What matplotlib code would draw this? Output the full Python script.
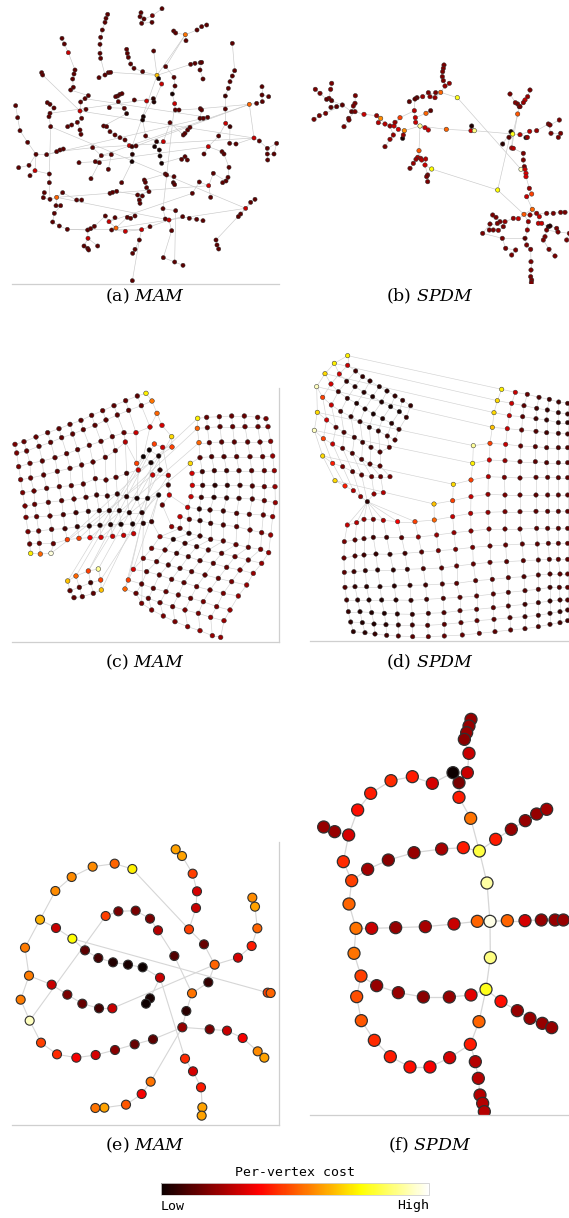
import matplotlib
matplotlib.use("Agg")
import matplotlib.pyplot as plt
from matplotlib.collections import LineCollection
from matplotlib.colorbar import ColorbarBase
from matplotlib.colors import PowerNorm

plt.rcParams["mathtext.fontset"] = "dejavuserif"

W, H = 569, 1218
COST_NORM = PowerNorm(gamma=1.3, vmin=0, vmax=1)

# ---------------------------------------------------------------------------
# Layout coordinates (x, y, cost) of the vertices, grouped in chains / grid rows
# ---------------------------------------------------------------------------

# (a) MAM, tree-like graph
A_CHAINS = [
    [(323, 43, .2), (318, 55, .2), (315, 67, .2), (307, 90, .2), (302, 112, .2), (300, 133, .2), (300, 160, .2), (302, 175, .2)],
    [(486, 26, .2), (457, 47, .25), (432, 57, .2), (423, 38, .2)],
    [(420, 50, .2), (425, 70, .2), (456, 67, .2)],
    [(620, 75, .2), (605, 80, .2), (591, 90, .2), (556, 104, .62), (558, 122, .2)],
    [(521, 93, .2), (527, 99, .2)],
    [(186, 115, .2), (193, 132, .2), (205, 158, .38)],
    [(380, 148, .2), (382, 160, .2), (385, 172, .2), (392, 192, .2), (402, 205, .2), (428, 215, .2)],
    [(461, 153, .2), (471, 226, .72), (476, 236, .05), (485, 252, .38), (462, 306, .08), (460, 296, .1), (440, 303, .38), (403, 300, .2)],
    [(497, 200, .2), (522, 232, .2), (525, 258, .2), (517, 282, .05), (524, 311, .38), (526, 330, .2), (537, 330, .2)],
    [(572, 193, .2), (585, 190, .2), (601, 188, .2), (605, 187, .2)],
    [(600, 210, .2), (609, 237, .2)],
    [(697, 130, .2), (704, 212, .2), (697, 228, .2), (690, 245, .2), (685, 265, .2), (676, 288, .15), (676, 327, .2),
     (677, 370, .38), (690, 380, .15), (689, 430, .2), (708, 432, .2)],
    [(748, 313, .6), (770, 310, .2), (787, 305, .2), (786, 285, .2), (786, 260, .2)],
    [(806, 290, .2)],
    [(125, 218, .2), (128, 225, .2)],
    [(225, 210, .2), (222, 222, .2), (218, 237, .2), (220, 262, .2), (212, 270, .2)],
    [(265, 287, .2), (255, 296, .2), (242, 306, .2), (240, 333, .38), (258, 328, .2)],
    [(245, 355, .2), (232, 367, .2), (215, 375, .2), (203, 380, .2)],
    [(240, 390, .2), (243, 403, .2)],
    [(297, 233, .2), (315, 225, .2), (325, 218, .2), (332, 217, .2)],
    [(353, 288, .2), (360, 283, .2), (366, 281, .2)],
    [(347, 290, .2), (355, 305, .2), (373, 325, .2), (380, 341, .1)],
    [(142, 308, .2), (150, 313, .2), (162, 324, .2), (150, 340, .2), (147, 350, .2), (152, 380, .2)],
    [(148, 522, .2), (148, 548, .2)],
    [(47, 317, .2), (53, 353, .2), (60, 392, .2), (83, 427, .2), (108, 463, .2), (140, 464, .2)],
    [(87, 496, .2), (56, 503, .2)],
    [(105, 512, .38), (90, 527, .2)],
    [(170, 455, .2), (180, 450, .2), (190, 447, .2)],
    [(311, 378, .2), (320, 380, .2), (330, 395, .2), (345, 405, .2), (360, 413, .2), (375, 420, .2), (388, 437, .38), (408, 438, .2)],
    [(328, 323, .2)],
    [(396, 440, .15), (397, 463, .1), (396, 485, .05)],
    [(430, 350, .05), (428, 360, .05), (437, 408, .2)],
    [(464, 440, .05), (478, 450, .05), (480, 468, .05), (485, 490, .05)],
    [(490, 425, .38), (470, 425, .1)],
    [(496, 522, .2), (500, 525, .2), (522, 530, .2), (520, 548, .15), (524, 554, .2)],
    [(433, 540, .2), (436, 547, .2), (440, 563, .2), (447, 575, .2)],
    [(413, 585, .2), (427, 588, .2), (418, 600, .2), (420, 610, .2)],
    [(330, 580, .2), (338, 577, .2), (350, 574, .2)],
    [(278, 443, .2), (304, 467, .2), (286, 485, .2), (298, 488, .2), (273, 536, .2)],
    [(237, 488, .2)],
    [(325, 508, .2), (334, 464, .2)],
    [(365, 548, .2)],
    [(555, 470, .2), (545, 478, .2), (562, 480, .2)],
    [(601, 326, .2), (605, 330, .2), (600, 355, .2), (610, 355, .2), (623, 352, .2)],
    [(510, 368, .2), (550, 405, .2), (555, 400, .2), (563, 390, .2), (570, 382, .2)],
    [(656, 408, .2), (625, 440, .38), (612, 462, .2)],
    [(666, 455, .2), (672, 462, .2), (687, 502, .2), (684, 532, .2), (678, 543, .2), (668, 548, .2)],
    [(640, 520, .2), (626, 557, .38), (598, 546, .2), (577, 580, .2)],
    [(632, 592, .2)],
    [(762, 414, .38), (778, 423, .2), (802, 445, .2), (830, 430, .2), (822, 462, .2), (802, 462, .2), (803, 480, .2)],
    [(765, 598, .2), (752, 607, .2), (737, 625, .38), (722, 642, .2), (715, 650, .2)],
    [(133, 578, .2), (130, 593, .2), (150, 598, .2), (170, 592, .6), (188, 578, .2)],
    [(168, 617, .2), (182, 617, .2), (163, 640, .2), (158, 666, .2), (178, 678, .2), (202, 688, .2)],
    [(230, 600, .2), (245, 600, .2)],
    [(263, 690, .2), (272, 686, .2), (283, 679, .2)],
    [(264, 715, .38), (252, 738, .2), (263, 745, .2), (266, 750, .2)],
    [(293, 738, .2)],
    [(316, 648, .2), (327, 665, .38), (345, 653, .2)],
    [(348, 684, .6), (335, 690, .2), (376, 694, .38)],
    [(382, 652, .2), (392, 655, .2), (405, 648, .2)],
    [(425, 689, .38), (450, 680, .2)],
    [(418, 720, .2), (405, 748, .2), (398, 760, .2)],
    [(489, 626, .2), (496, 657, .2), (507, 660, .38), (515, 692, .2)],
    [(548, 650, .2), (568, 655, .2), (590, 658, .2), (609, 662, .2)],
    [(527, 632, .2)],
    [(648, 720, .2), (651, 735, .2), (656, 747, .2)],
    [(490, 773, .2), (524, 786, .2), (549, 796, .2)],
    [(397, 842, .2)],
]
A_LINKS = [
    ((3, 3), (4, 1)), ((3, 3), (7, 1)), ((3, 3), (8, 0)), ((2, 0), (1, 2)), ((0, 7), (19, 1)),
    ((6, 5), (7, 1)), ((7, 1), (19, 3)), ((7, 1), (9, 0)), ((9, 3), (10, 0)), ((5, 2), (15, 0)),
    ((14, 1), (16, 3)), ((15, 4), (16, 0)), ((16, 3), (17, 0)), ((17, 1), (18, 0)), ((20, 0), (21, 0)),
    ((21, 3), (28, 0)), ((22, 5), (23, 0)), ((23, 1), (51, 2)), ((24, 4), (25, 0)), ((24, 4), (26, 0)),
    ((26, 0), (23, 0)), ((28, 7), (30, 0)), ((30, 2), (41, 0)), ((31, 2), (33, 1)), ((32, 0), (33, 1)),
    ((7, 5), (31, 0)), ((8, 6), (43, 0)), ((44, 0), (33, 0)), ((45, 0), (11, 7)), ((45, 1), (46, 0)),
    ((47, 0), (46, 4)), ((47, 1), (48, 0)), ((49, 0), (12, 0)), ((11, 10), (49, 0)), ((50, 2), (65, 0)),
    ((51, 3), (52, 0)), ((51, 4), (53, 0)), ((52, 5), (54, 0)), ((54, 2), (57, 0)), ((55, 0), (54, 0)),
    ((55, 0), (56, 0)), ((57, 1), (58, 0)), ((58, 0), (59, 0)), ((58, 2), (60, 0)), ((60, 0), (61, 0)),
    ((60, 1), (62, 2)), ((62, 0), (64, 0)), ((62, 2), (63, 0)), ((62, 3), (66, 0)), ((64, 0), (66, 1)),
    ((61, 0), (67, 0)), ((38, 0), (49, 0)), ((38, 2), (45, 1)), ((22, 3), (7, 5)), ((51, 3), (62, 2)),
    ((51, 3), (47, 1)), ((52, 5), (60, 0)), ((58, 0), (50, 2)), ((57, 1), (47, 3)), ((7, 1), (30, 0)),
    ((8, 4), (62, 0)), ((27, 0), (38, 0)), ((24, 5), (27, 0)), ((12, 0), (43, 0)), ((12, 0), (38, 1)),
    ((12, 0), (28, 7)), ((13, 0), (12, 3)), ((29, 0), (21, 2)), ((39, 0), (38, 2)), ((40, 1), (38, 1)),
    ((42, 0), (32, 3)), ((35, 0), (34, 0)), ((36, 0), (35, 3)), ((37, 2), (36, 0)), ((16, 1), (43, 4)),
    ((16, 3), (49, 0)), ((24, 5), (43, 4)), ((22, 5), (50, 2)),
]

# (b) SPDM, tree-like graph
B_CHAINS = [
    [(462, 45, .25), (460, 55, .25), (458, 65, .25), (457, 80, .25), (460, 92, .25), (465, 108, .3)],
    [(478, 100, .3)],
    [(415, 128, .25), (437, 128, .25), (452, 127, .6), (502, 143, .82)],
    [(398, 140, .3), (381, 143, .2), (358, 155, .2)],
    [(420, 140, .3), (435, 143, .3)],
    [(375, 147, .2), (373, 182, .35), (376, 203, .38), (377, 217, .38), (390, 228, .92), (405, 233, .38), (415, 240, .38)],
    [(408, 190, .6), (422, 182, .2)],
    [(125, 100, .25), (122, 118, .25), (117, 145, .25), (125, 152, .2), (157, 165, .2), (185, 185, .2)],
    [(76, 118, .25), (90, 130, .25), (110, 148, .2)],
    [(140, 170, .2), (123, 172, .2)],
    [(196, 137, .25), (195, 160, .25), (190, 168, .25), (195, 185, .25), (222, 193, .38), (260, 197, .3),
     (272, 205, .65), (285, 222, .35), (300, 228, .3), (312, 228, .38), (325, 238, .4), (343, 242, .65)],
    [(107, 190, .25), (88, 197, .25), (72, 208, .25)],
    [(176, 205, .25), (177, 210, .25), (162, 230, .25)],
    [(265, 218, .35)],
    [(330, 203, .55), (315, 217, .3)],
    [(310, 255, .3), (300, 268, .3), (285, 290, .25)],
    [(338, 265, .05), (340, 255, .3)],
    [(387, 302, .58), (383, 322, .35), (378, 328, .3), (370, 340, .3), (360, 355, .25)],
    [(392, 325, .35), (395, 330, .35), (407, 327, .35), (405, 345, .38), (425, 357, .8)],
    [(413, 375, .25), (410, 380, .25), (413, 395, .25)],
    [(469, 238, .6), (543, 242, .38), (545, 228, .08), (553, 242, .9)],
    [(660, 132, .25), (676, 158, .28), (683, 162, .25), (688, 170, .25), (683, 192, .58)],
    [(720, 120, .25), (713, 140, .3), (705, 150, .38), (700, 158, .3), (690, 170, .25)],
    [(663, 245, .05), (668, 252, .82), (690, 254, .35), (719, 244, .35), (740, 242, .3), (775, 222, .25),
     (780, 225, .25), (808, 210, .25)],
    [(783, 250, .25), (812, 250, .25), (805, 262, .25)],
    [(657, 262, .2)],
    [(708, 263, .05), (712, 262, .3)],
    [(638, 282, .1)],
    [(665, 294, .35), (670, 295, .35), (700, 310, .25), (700, 330, .25), (703, 350, .25), (693, 358, .95),
     (705, 358, .38), (708, 370, .4), (708, 380, .4), (718, 415, .3), (725, 432, .55), (710, 440, .38), (727, 478, .6)],
    [(623, 420, .8)],
    [(702, 493, .58), (685, 506, .38), (670, 505, .3), (645, 515, .3), (630, 515, .25), (618, 502, .25), (608, 495, .25)],
    [(622, 520, .25), (640, 530, .25), (600, 522, .25), (578, 550, .25)],
    [(598, 540, .25), (610, 540, .25), (625, 541, .3)],
    [(720, 495, .3), (740, 490, .3), (770, 490, .25), (790, 490, .25), (812, 487, .25), (825, 487, .25)],
    [(748, 500, .38), (745, 520, .38), (755, 520, .38), (775, 530, .08), (780, 528, .1), (800, 535, .25), (804, 546, .25)],
    [(715, 515, .3), (712, 540, .3), (705, 565, .2), (710, 585, .25), (722, 598, .25), (723, 635, .25),
     (723, 660, .25), (722, 680, .25), (725, 690, .25), (724, 698, .25)],
    [(637, 565, .25), (647, 595, .25), (677, 600, .25), (665, 615, .25)],
    [(770, 540, .25), (765, 560, .25), (760, 570, .25), (777, 598, .25), (795, 618, .25)],
    [(830, 570, .25), (838, 550, .25)],
]
B_LINKS = [
    ((2, 3), (28, 5)), ((10, 11), (5, 4)), ((5, 4), (20, 0)), ((20, 3), (23, 1)), ((5, 4), (17, 0)),
    ((18, 4), (29, 0)), ((29, 0), (30, 0)), ((29, 0), (23, 0)), ((17, 0), (18, 0)), ((10, 11), (16, 1)),
    ((14, 0), (10, 9)), ((15, 0), (10, 8)), ((13, 0), (10, 7)), ((5, 0), (3, 1)), ((2, 0), (3, 0)),
    ((1, 0), (0, 5)), ((0, 5), (2, 2)), ((4, 1), (2, 2)), ((6, 0), (5, 2)), ((7, 5), (10, 3)),
    ((8, 2), (7, 2)), ((9, 0), (7, 4)), ((11, 0), (7, 4)), ((12, 0), (10, 3)), ((21, 4), (23, 1)),
    ((22, 4), (21, 3)), ((25, 0), (23, 0)), ((26, 1), (23, 2)), ((27, 0), (23, 0)), ((24, 0), (23, 5)),
    ((28, 0), (23, 1)), ((28, 12), (30, 0)), ((28, 12), (33, 0)), ((28, 12), (34, 0)), ((30, 0), (35, 0)),
    ((31, 0), (30, 3)), ((32, 2), (31, 1)), ((36, 0), (31, 3)), ((36, 0), (35, 2)), ((37, 0), (34, 6)),
    ((38, 1), (34, 6)), ((19, 0), (18, 3)), ((5, 1), (14, 0)), ((2, 1), (4, 1)), ((21, 4), (28, 0)),
]

# (c) MAM, two grids and a small patch
C_LEFT = [
    [(45, 193, .25), (72, 185, .22), (108, 171, .22), (143, 158, .2), (177, 146, .2), (210, 133, .2),
     (243, 121, .2), (275, 106, .2), (308, 92, .22), (342, 77, .2), (377, 62, .22), (412, 48, .2)],
    [(50, 219, .25), (80, 213, .22), (117, 199, .2), (152, 187, .2), (185, 173, .2), (218, 162, .2),
     (250, 149, .2), (285, 136, .2), (318, 120, .2), (352, 105, .2), (386, 91, .2), (424, 77, .22)],
    [(56, 260, .25), (90, 250, .22), (127, 243, .2), (165, 233, .2), (200, 221, .2), (233, 209, .2),
     (268, 196, .2), (303, 184, .2), (337, 170, .2), (372, 158, .22), (408, 158, .38), (450, 141, .38)],
    [(62, 299, .25), (92, 294, .22), (131, 285, .2), (172, 274, .2), (210, 265, .2), (245, 255, .2),
     (279, 246, .2), (316, 232, .2), (346, 212, .2), (376, 186, .35), (410, 250, .55), (430, 230, .02)],
    [(68, 338, .25), (102, 333, .22), (140, 325, .2), (178, 320, .2), (214, 317, .2), (250, 312, .2),
     (286, 296, .2), (318, 300, .2), (348, 292, .2), (380, 280, .15), (415, 270, .38), (453, 248, .05)],
    [(75, 378, .25), (104, 373, .22), (145, 367, .2), (185, 362, .2), (222, 357, .2), (258, 352, .18),
     (290, 345, .15), (322, 348, .15), (352, 342, .12), (380, 350, .1), (411, 355, .06), (443, 355, .06)],
    [(78, 412, .25), (110, 410, .22), (150, 408, .2), (190, 404, .18), (228, 398, .15), (265, 394, .12),
     (298, 392, .1), (328, 392, .1), (358, 392, .08), (388, 398, .08), (426, 398, .1), (476, 345, .04)],
    [(84, 455, .25), (116, 453, .22), (155, 448, .2), (195, 446, .15), (232, 440, .12), (268, 438, .1),
     (300, 436, .08), (332, 434, .08), (363, 433, .06), (398, 432, .06), (430, 430, .1), (455, 425, .15)],
    [(89, 492, .22), (118, 490, .22), (160, 491, .22), (202, 479, .55), (237, 475, .55), (270, 473, .45),
     (303, 472, .4), (338, 469, .38), (371, 466, .38), (401, 461, .38)],
    [(92, 520, .78), (121, 522, .6), (153, 520, .97)],
]
C_CORE = [
    [(448, 210, .03), (476, 228, .06), (480, 270, .1), (458, 285, .38), (505, 286, .35), (505, 315, .15),
     (508, 345, .38), (487, 375, .22)],
    [(438, 40, .78), (456, 63, .62), (471, 100, .6), (486, 136, .4), (515, 170, .75), (516, 201, .55),
     (488, 202, .38), (463, 192, .55)],
]
C_RIGHT = [
    [(593, 115, .78), (620, 112, .22), (658, 110, .22), (695, 108, .22), (733, 108, .22), (773, 112, .22), (798, 116, .25)],
    [(592, 145, .6), (622, 143, .2), (660, 140, .2), (698, 140, .22), (735, 140, .22), (774, 140, .22), (804, 140, .25)],
    [(597, 188, .6), (628, 188, .2), (665, 186, .2), (703, 186, .2), (743, 186, .2), (780, 186, .22), (812, 184, .28)],
    [(571, 250, .75), (600, 233, .2), (635, 230, .18), (672, 230, .18), (710, 230, .2), (750, 230, .2), (788, 230, .22), (818, 228, .3)],
    [(576, 280, .4), (607, 275, .15), (643, 272, .15), (680, 272, .15), (717, 272, .18), (755, 272, .2), (793, 272, .22), (823, 272, .3)],
    [(577, 316, .4), (608, 316, .15), (645, 316, .1), (682, 316, .12), (720, 316, .15), (757, 318, .18), (793, 320, .22), (825, 320, .3)],
    [(573, 350, .38), (604, 352, .15), (642, 352, .1), (680, 354, .12), (717, 355, .15), (757, 357, .18), (793, 362, .22), (826, 368, .3)],
    [(563, 382, .38), (598, 387, .1), (630, 390, .15), (670, 393, .15), (710, 400, .18), (748, 403, .2), (790, 405, .22), (818, 410, .3)],
    [(540, 410, .38), (568, 418, .2), (600, 422, .12), (632, 430, .15), (670, 435, .18), (710, 440, .2),
     (750, 450, .22), (785, 458, .25), (812, 465, .3)],
    [(515, 440, .3), (540, 445, .22), (567, 460, .1), (600, 468, .15), (632, 478, .18), (670, 483, .2),
     (708, 494, .22), (745, 502, .22), (782, 508, .25), (806, 518, .3)],
    [(480, 470, .3), (520, 478, .08), (555, 490, .15), (590, 500, .15), (625, 510, .18), (665, 520, .2),
     (705, 530, .22), (745, 540, .22), (785, 550, .3)],
    [(455, 505, .25), (495, 510, .2), (530, 520, .15), (565, 530, .18), (600, 542, .18), (640, 550, .2),
     (680, 562, .22), (720, 570, .25), (760, 580, .3)],
    [(430, 535, .25), (470, 545, .2), (505, 555, .18), (540, 565, .18), (575, 575, .2), (615, 585, .2),
     (655, 595, .22), (695, 605, .25), (740, 615, .3)],
    [(400, 568, .4), (440, 575, .2), (478, 585, .2), (515, 598, .2), (552, 608, .2), (590, 620, .22),
     (630, 630, .22), (670, 640, .25), (715, 648, .3)],
    [(385, 600, .55), (425, 612, .2), (460, 625, .2), (498, 635, .22), (535, 645, .22), (572, 655, .22),
     (610, 665, .25), (650, 680, .25), (690, 690, .3)],
    [(375, 627, .6), (408, 640, .22), (445, 655, .22), (480, 668, .22), (518, 680, .22), (555, 690, .25),
     (595, 700, .25), (632, 712, .3), (672, 722, .3)],
    [(425, 670, .25), (455, 690, .25), (490, 708, .25), (525, 725, .25), (563, 740, .28), (600, 752, .3),
     (637, 767, .3), (662, 772, .3)],
]
C_SMALL = [
    [(203, 603, .72), (228, 588, .6), (265, 573, .55), (295, 567, .92)],
    [(210, 632, .2), (238, 622, .2), (272, 608, .15), (302, 600, .55)],
    [(222, 653, .2), (247, 650, .2), (280, 640, .2), (304, 630, .72)],
]
C_LINKS = [
    (("small", 0, 0), ("left", 3, 11)), (("small", 0, 1), ("core", 0, 0)), (("small", 0, 2), ("core", 0, 1)),
    (("small", 0, 3), ("core", 1, 4)), (("small", 1, 3), ("core", 0, 4)), (("small", 2, 3), ("core", 0, 2)),
    (("left", 8, 3), ("right", 0, 0)), (("left", 8, 4), ("right", 1, 0)), (("left", 8, 5), ("right", 2, 0)),
    (("left", 8, 6), ("right", 3, 0)), (("left", 9, 2), ("core", 0, 3)), (("right", 13, 0), ("left", 6, 11)),
    (("right", 14, 0), ("core", 0, 3)), (("right", 15, 0), ("left", 5, 11)), (("left", 0, 11), ("core", 1, 0)),
    (("left", 1, 11), ("core", 1, 1)), (("left", 2, 11), ("core", 1, 2)), (("core", 1, 5), ("core", 0, 1)),
    (("core", 1, 6), ("core", 0, 4)), (("right", 16, 0), ("left", 7, 10)), (("core", 0, 7), ("right", 9, 0)),
    (("core", 0, 6), ("right", 7, 0)), (("left", 7, 11), ("right", 10, 0)), (("small", 0, 2), ("core", 1, 7)),
]

# (d) SPDM, folded flap above a large grid
D_FLAP = [
    [(173, 47, .78), (173, 76, .38), (197, 93, .15), (218, 110, .12), (240, 123, .12), (268, 140, .1),
     (291, 153, .1), (315, 168, .12), (338, 181, .12), (362, 197, .12)],
    [(133, 70, .78), (148, 102, .4), (170, 124, .12), (195, 140, .1), (222, 157, .1), (248, 170, .08),
     (275, 186, .08), (302, 200, .05), (328, 215, .05), (349, 232, .12)],
    [(105, 101, .75), (123, 132, .4), (145, 155, .15), (172, 175, .12), (200, 190, .08), (225, 207, .08),
     (250, 222, .06), (278, 236, .08), (305, 250, .1), (327, 268, .15)],
    [(80, 140, .95), (98, 172, .55), (124, 195, .38), (152, 214, .15), (183, 230, .12), (210, 245, .12),
     (238, 262, .1), (265, 273, .12), (292, 288, .15), (315, 300, .18)],
    [(82, 217, .75), (110, 240, .4), (138, 262, .2), (162, 277, .18), (193, 292, .15), (218, 307, .15),
     (243, 322, .15), (270, 336, .18), (298, 322, .2)],
    [(73, 271, .95), (100, 296, .55), (128, 312, .38), (158, 325, .2), (187, 340, .18), (215, 358, .18),
     (240, 372, .2), (270, 378, .2)],
    [(98, 348, .75), (128, 370, .5), (158, 380, .25), (188, 395, .2), (215, 405, .2), (245, 410, .22),
     (272, 410, .22), (300, 410, .25)],
    [(135, 422, .75), (165, 438, .5), (190, 452, .35), (212, 470, .3), (232, 485, .1), (252, 462, .3), (280, 458, .35)],
]
D_GRID = [
    [(635, 148, .78), (676, 157, .38), (712, 163, .22), (747, 172, .18), (778, 178, .15), (806, 186, .15), (833, 190, .15)],
    [(622, 182, .75), (665, 190, .38), (702, 197, .2), (740, 205, .15), (772, 210, .12), (805, 218, .12), (833, 222, .12)],
    [(612, 218, .75), (658, 227, .38), (698, 230, .2), (738, 236, .15), (770, 240, .12), (805, 248, .1), (833, 248, .1)],
    [(607, 262, .72), (652, 266, .38), (695, 270, .22), (738, 274, .18), (770, 278, .15), (805, 280, .15), (833, 282, .15)],
    [(550, 317, .92), (600, 310, .55), (647, 313, .38), (692, 318, .22), (736, 320, .2), (770, 323, .18),
     (805, 323, .18), (833, 323, .18)],
    [(548, 370, .78), (598, 360, .4), (645, 362, .3), (690, 365, .22), (736, 365, .2), (770, 368, .18),
     (805, 368, .18), (833, 368, .18)],
    [(490, 433, .75), (543, 420, .55), (595, 410, .35), (643, 412, .25), (690, 414, .22), (738, 412, .2),
     (773, 412, .2), (805, 413, .2), (833, 413, .2)],
    [(432, 492, .72), (488, 482, .55), (543, 470, .38), (594, 463, .3), (645, 465, .25), (690, 465, .22),
     (738, 465, .2), (773, 465, .2), (805, 465, .2), (833, 465, .2)],
    [(172, 555, .38), (200, 548, .35), (222, 538, .3), (250, 538, .25), (280, 541, .35), (323, 545, .45),
     (375, 545, .55), (433, 540, .6), (488, 530, .38), (542, 520, .35), (594, 517, .3), (645, 515, .25),
     (690, 515, .22), (738, 514, .2), (773, 514, .2), (805, 514, .2), (833, 514, .2)],
    [(163, 605, .25), (195, 600, .2), (222, 596, .18), (250, 592, .15), (290, 592, .15), (335, 593, .2),
     (385, 591, .3), (440, 585, .3), (492, 578, .3), (543, 573, .28), (597, 567, .25), (645, 567, .22),
     (690, 567, .2), (740, 565, .2), (773, 565, .2), (805, 565, .2), (833, 565, .2)],
    [(162, 654, .22), (195, 648, .18), (222, 645, .15), (258, 642, .12), (300, 643, .12), (345, 640, .15),
     (395, 636, .2), (445, 632, .25), (497, 628, .25), (548, 622, .25), (600, 618, .22), (647, 615, .22),
     (697, 612, .2), (742, 612, .2), (775, 610, .2), (805, 610, .2), (833, 610, .2)],
    [(163, 697, .2), (192, 695, .15), (226, 692, .12), (263, 690, .1), (310, 690, .1), (352, 688, .12),
     (400, 686, .18), (455, 684, .2), (500, 678, .22), (550, 672, .22), (600, 667, .22), (650, 665, .2),
     (700, 662, .2), (745, 660, .18), (778, 658, .18), (805, 658, .2), (833, 658, .2)],
    [(165, 742, .18), (195, 740, .12), (230, 740, .1), (270, 740, .1), (313, 738, .1), (360, 736, .12),
     (407, 735, .15), (457, 732, .18), (500, 730, .2), (557, 722, .2), (607, 718, .2), (655, 713, .2),
     (702, 710, .18), (745, 705, .18), (780, 702, .18), (810, 702, .2), (833, 702, .2)],
    [(170, 780, .15), (203, 780, .1), (237, 780, .08), (275, 780, .08), (318, 780, .1), (363, 781, .12),
     (410, 778, .15), (460, 775, .18), (510, 772, .2), (560, 768, .2), (610, 762, .2), (655, 757, .18),
     (705, 752, .18), (745, 748, .18), (780, 742, .15), (808, 742, .18), (833, 742, .2)],
    [(175, 815, .12), (210, 815, .08), (245, 818, .08), (283, 820, .08), (322, 822, .1), (367, 823, .12),
     (415, 820, .15), (462, 818, .18), (510, 812, .2), (560, 808, .2), (610, 803, .2), (655, 798, .18),
     (705, 793, .15), (745, 788, .15), (780, 783, .12), (810, 780, .15), (833, 780, .18)],
    [(182, 846, .1), (217, 848, .08), (252, 852, .08), (288, 854, .1), (325, 855, .12), (367, 855, .15),
     (413, 856, .18), (463, 853, .2), (513, 848, .2), (561, 842, .22), (612, 838, .2), (660, 833, .18),
     (705, 830, .15), (745, 826, .15), (780, 820, .12), (810, 815, .12), (833, 810, .15)],
    [(190, 875, .1), (225, 878, .1), (255, 882, .12), (290, 886, .15), (325, 888, .18), (368, 890, .2),
     (415, 890, .22), (463, 888, .22), (517, 885, .22), (568, 880, .22), (615, 875, .2), (662, 870, .2),
     (705, 866, .18), (745, 860, .18), (780, 853, .15), (810, 848, .15), (833, 842, .15)],
]
D_LINKS = [(("flap", r, 0), ("grid", r, 0)) for r in range(8)] + \
          [(("flap", 7, 4), ("grid", 8, k)) for k in range(7)]

# (e) MAM, spiral-shaped graph
E_CHAINS = [
    [(397, 117, .78), (344, 101, .6), (278, 110, .65), (215, 141, .65), (166, 183, .65), (120, 269, .7),
     (75, 353, .63), (87, 437, .63), (62, 509, .63), (89, 572, .95), (123, 638, .55), (171, 673, .52),
     (229, 683, .45), (287, 675, .4), (345, 660, .28), (404, 643, .22), (459, 628, .2), (547, 592, .3)],
    [(527, 58, .68), (546, 78, .68), (578, 131, .55), (591, 184, .4), (588, 234, .38), (567, 298, .55),
     (612, 343, .22), (644, 404, .6), (625, 457, .12), (576, 490, .62), (559, 543, .1)],
    [(714, 383, .4), (755, 348, .5), (772, 295, .6), (765, 230, .68), (757, 203, .65)],
    [(629, 598, .25), (681, 602, .38), (728, 624, .45), (773, 664, .65), (793, 683, .68)],
    [(452, 755, .62), (425, 792, .45), (378, 824, .58), (313, 833, .68), (286, 834, .62)],
    [(168, 294, .38), (217, 326, .8), (255, 361, .2), (295, 384, .15), (339, 397, .08), (384, 404, .06),
     (428, 412, .02), (480, 443, .38), (555, 686, .52), (579, 724, .4), (603, 772, .5), (607, 832, .68), (605, 857, .68)],
    [(317, 258, .55), (355, 244, .25), (407, 242, .25), (450, 266, .25), (474, 301, .35), (523, 378, .18)],
    [(155, 464, .38), (202, 494, .25), (247, 521, .22), (297, 535, .15), (337, 535, .38)],
    [(450, 505, .05), (438, 521, .02)],
    [(803, 488, .55), (812, 489, .6)],
]
E_LINKS = [
    ((1, 10), (0, 17)), ((0, 17), (3, 0)), ((0, 17), (4, 0)), ((1, 7), (2, 0)), ((7, 4), (1, 7)),
    ((6, 5), (1, 9)), ((5, 7), (8, 0)), ((5, 1), (9, 0)), ((0, 9), (6, 0)), ((0, 0), (1, 5)),
    ((5, 0), (0, 5)), ((7, 0), (0, 7)),
]

# (f) SPDM, comb-shaped graph
F_CHAINS = [
    [(543, 58, .3), (537, 78, .3), (530, 98, .3), (523, 118, .28), (537, 160, .38), (532, 218, .38),
     (507, 248, .25), (507, 292, .5), (542, 355, .62), (568, 453, .85)],
    [(489, 218, .02), (427, 250, .4), (367, 230, .5), (303, 242, .52), (242, 280, .5), (203, 330, .48),
     (176, 405, .4), (160, 485, .52), (185, 542, .55), (177, 612, .6), (198, 685, .62), (192, 760, .62),
     (213, 828, .55), (200, 890, .57), (214, 962, .58), (253, 1021, .52), (301, 1070, .5), (360, 1101, .48),
     (420, 1101, .45), (479, 1073, .4), (541, 1033, .5), (567, 965, .6), (588, 868, .82)],
    [(134, 395, .3), (101, 381, .3)],
    [(556, 1085, .35), (565, 1135, .35), (570, 1185, .35), (578, 1210, .35), (583, 1235, .35)],
    [(233, 508, .32), (295, 480, .28), (372, 458, .3), (455, 447, .33), (520, 443, .5)],
    [(617, 418, .5), (664, 388, .3), (706, 362, .3), (740, 342, .3), (770, 328, .32)],
    [(591, 549, .93), (600, 664, .98), (601, 773, .9)],
    [(245, 685, .38), (317, 683, .3), (406, 680, .33), (492, 672, .38), (562, 664, .6)],
    [(652, 662, .6), (705, 662, .4), (754, 660, .3), (795, 660, .3), (820, 660, .3)],
    [(260, 857, .3), (325, 878, .3), (400, 891, .28), (478, 891, .3), (543, 885, .42)],
    [(633, 904, .48), (682, 932, .3), (720, 955, .3), (757, 970, .3), (785, 983, .3)],
]
F_LINKS = [
    ((1, 6), (2, 0)), ((1, 20), (3, 0)), ((4, 4), (0, 9)), ((1, 8), (4, 0)), ((0, 9), (5, 0)),
    ((0, 9), (6, 0)), ((6, 2), (1, 22)), ((1, 10), (7, 0)), ((7, 4), (6, 1)), ((6, 1), (8, 0)),
    ((1, 12), (9, 0)), ((9, 4), (1, 22)), ((1, 22), (10, 0)), ((1, 0), (0, 6)),
]

CAPTIONS = ["(a)", "(b)", "(c)", "(d)", "(e)", "(f)"]
METHODS = ["MAM", "SPDM", "MAM", "SPDM", "MAM", "SPDM"]


def tree(chains, links):
    return {"t": (chains, None)}, [(("t",) + a, ("t",) + b) for a, b in links]


def draw_panel(box, xlim, ylim, groups, links, size, node_lw, edge_lw, edge_col, spines=()):
    l, t, r, b = box
    ax = fig.add_axes([l / W, 1 - b / H, (r - l) / W, (b - t) / H])
    ax.set_xlim(*xlim)
    ax.set_ylim(*ylim)
    ax.set_xticks([])
    ax.set_yticks([])
    for side, sp in ax.spines.items():
        sp.set_visible(side in spines)
        sp.set_color("#cfcfcf")
        sp.set_linewidth(0.9)
    ax.patch.set_alpha(0)

    lookup, segs = {}, []
    xs, ys, cs = [], [], []
    for name, (rows, align) in groups.items():
        for ri, row in enumerate(rows):
            for ni, (x, y, c) in enumerate(row):
                lookup[(name, ri, ni)] = (x, y)
                xs.append(x)
                ys.append(y)
                cs.append(c)
            segs += [[row[k][:2], row[k + 1][:2]] for k in range(len(row) - 1)]
        if align:
            for upper, lower in zip(rows[:-1], rows[1:]):
                off = len(lower) - len(upper) if align == "right" else 0
                for k, p in enumerate(upper):
                    j = k + off
                    if 0 <= j < len(lower):
                        segs.append([p[:2], lower[j][:2]])
    segs += [[lookup[a], lookup[b]] for a, b in links]

    ax.add_collection(LineCollection(segs, colors=edge_col, linewidths=edge_lw, zorder=1))
    ax.scatter(xs, ys, c=cs, cmap="hot", norm=COST_NORM, s=size,
               edgecolors="#303030", linewidths=node_lw, zorder=2)
    return ax


fig = plt.figure(figsize=(W / 100, H / 100), dpi=100)

g, lk = tree(A_CHAINS, A_LINKS)
draw_panel((12, 5, 279, 284), (36, 837), (852, 15), g, lk, 9, 0.35, 0.45, "#c9c9c9", spines=("bottom",))

g, lk = tree(B_CHAINS, B_LINKS)
draw_panel((310, 5, 569, 284), (60, 837), (702, -135), g, lk, 10, 0.35, 0.45, "#c9c9c9")

draw_panel((12, 388, 279, 642), (36, 837), (786, 24),
           {"left": (C_LEFT, "left"), "core": (C_CORE, None), "right": (C_RIGHT, "right"), "small": (C_SMALL, "left")},
           C_LINKS, 11, 0.35, 0.45, "#d2d2d2", spines=("bottom", "right"))

draw_panel((310, 345, 569, 641), (60, 837), (903, 15),
           {"flap": (D_FLAP, "left"), "grid": (D_GRID, "right")},
           D_LINKS, 10, 0.35, 0.45, "#d2d2d2", spines=("bottom",))

g, lk = tree(E_CHAINS, E_LINKS)
draw_panel((12, 842, 279, 1125), (36, 837), (885, 36), g, lk, 42, 0.8, 0.8, "#d6d6d6", spines=("bottom", "right"))

g, lk = tree(F_CHAINS, F_LINKS)
draw_panel((310, 703, 569, 1115), (60, 837), (1245, 9), g, lk, 75, 0.9, 0.9, "#d6d6d6", spines=("bottom",))

# sub-captions
cap_pos = [(145, 296), (430, 296), (145, 662), (430, 662), (145, 1145), (430, 1145)]
for (cx, cy), tag, meth in zip(cap_pos, CAPTIONS, METHODS):
    fig.text(cx / W, 1 - cy / H, tag + r" $\mathit{" + meth + "}$", family="DejaVu Serif",
             fontsize=12.5, ha="center", va="center")

# colour scale
cax = fig.add_axes([161 / W, 1 - 1195 / H, 268 / W, 12 / H])
cb = ColorbarBase(cax, cmap="hot", norm=COST_NORM, orientation="horizontal")
cb.set_ticks([])
cb.minorticks_off()
cb.outline.set_edgecolor("#d0d0d0")
cb.outline.set_linewidth(0.6)
fig.text(295 / W, 1 - 1173 / H, "Per-vertex cost", family="DejaVu Sans Mono", fontsize=9.5, ha="center", va="center")
fig.text(161 / W, 1 - 1206 / H, "Low", family="DejaVu Sans Mono", fontsize=9.5, ha="left", va="center")
fig.text(429 / W, 1 - 1206 / H, "High", family="DejaVu Sans Mono", fontsize=9.5, ha="right", va="center")

fig.savefig("out.png", dpi=100)
